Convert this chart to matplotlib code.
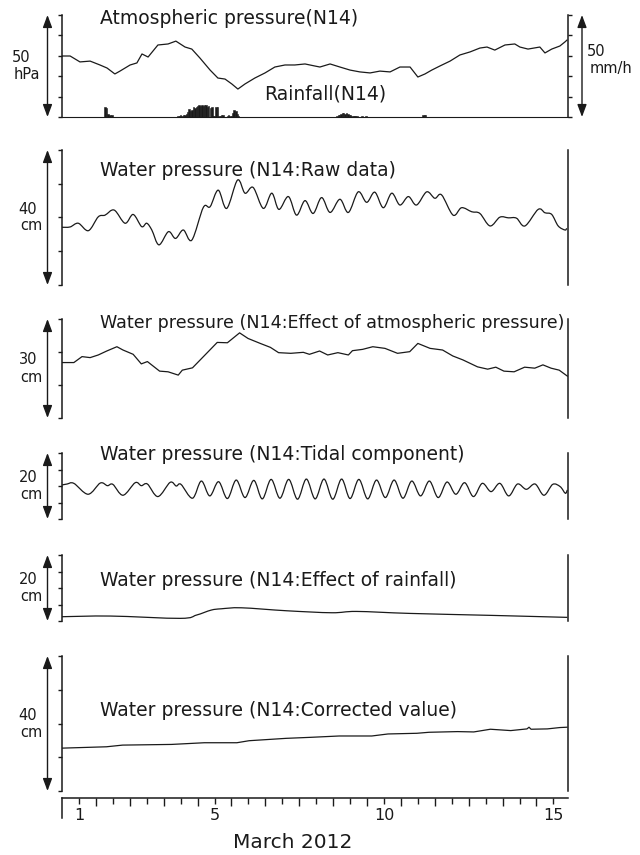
import matplotlib
matplotlib.use('Agg')
import matplotlib.pyplot as plt
from matplotlib.lines import Line2D
from matplotlib.path import Path
from matplotlib.patches import PathPatch
import matplotlib.transforms as mtransforms
import numpy as np

plt.rcParams['font.family'] = ['DejaVu Sans', 'Noto Sans CJK JP']

# time = days since 1 March 2012 00:00
pres_t = [0.00, 0.24, 0.53, 0.83, 1.12, 1.33, 1.56, 1.71, 2.01, 2.21, 2.36, 2.54, 2.83, 3.13, 3.36,
          3.63, 3.83, 4.07, 4.37, 4.60, 4.81, 5.01, 5.19, 5.40, 5.69, 5.99, 6.28, 6.58, 6.87, 7.17,
          7.46, 7.61, 7.91, 8.20, 8.50, 8.79, 9.09, 9.38, 9.68, 9.97, 10.27, 10.50, 10.71, 10.91, 11.15,
          11.45, 11.74, 12.04, 12.33, 12.54, 12.77, 13.07, 13.36, 13.51, 13.75, 14.10, 14.25, 14.45, 14.69, 14.84,
          14.90]
pres_hpa = [1014.9, 1014.9, 1012.0, 1012.4, 1010.5, 1009.0, 1006.1, 1007.5, 1010.5, 1011.5, 1015.9, 1014.4, 1020.3, 1020.8, 1022.2,
            1019.3, 1018.3, 1013.9, 1008.0, 1004.1, 1003.6, 1001.2, 998.7, 1001.2, 1004.1, 1006.6, 1009.5, 1010.5, 1010.5, 1011.0,
            1010.0, 1009.5, 1011.0, 1009.5, 1008.0, 1007.1, 1006.6, 1007.5, 1007.1, 1009.5, 1009.5, 1004.6, 1006.1, 1008.0, 1010.0,
            1012.4, 1015.4, 1016.9, 1018.8, 1019.3, 1017.8, 1020.3, 1020.8, 1019.3, 1018.3, 1019.3, 1016.4, 1018.3, 1019.8, 1021.8,
            1022.7]

rain_t = [1.27, 1.31, 1.36, 1.42, 1.47,
          3.42, 3.46, 3.50, 3.54, 3.58, 3.63, 3.67, 3.71, 3.75, 3.79, 3.83, 3.88, 3.92, 3.96, 4.00,
          4.04, 4.08, 4.13, 4.17, 4.21, 4.25, 4.29, 4.33, 4.38, 4.42, 4.46, 4.50, 4.54, 4.58, 4.63,
          4.67, 4.71, 4.75, 4.88, 4.92, 4.96, 5.00, 5.04, 5.08, 5.13, 5.17, 5.21,
          8.11, 8.15, 8.19, 8.23, 8.27, 8.31, 8.35, 8.40, 8.44, 8.48, 8.52, 8.56, 8.61, 8.65, 8.70,
          8.85, 8.97, 10.65, 10.69, 10.73]
rain_mm = [4.9, 4.5, 1.5, 1.2, 0.8,
           0.5, 0.7, 0.8, 0.6, 1.0, 1.2, 1.5, 2.5, 3.9, 2.8, 3.5, 4.9, 4.2, 4.9, 5.2,
           5.9, 5.4, 5.9, 5.6, 6.1, 5.9, 4.9, 5.4, 4.4, 4.9, 0.5, 0.3, 4.9, 4.9, 0.5,
           0.3, 1.0, 0.8, 0.3, 0.8, 0.5, 0.3, 2.0, 3.4, 3.0, 1.5, 0.5,
           0.5, 0.8, 1.2, 1.5, 1.8, 1.8, 1.5, 1.8, 1.5, 1.2, 0.8, 0.5, 0.3, 0.5, 0.3,
           0.3, 0.3, 0.8, 1.0, 0.8]

raw_t = [0.00, 0.24, 0.48, 0.78, 1.07, 1.27, 1.54, 1.86, 2.10, 2.35, 2.50, 2.65, 2.86, 3.14, 3.35,
         3.58, 3.83, 4.17, 4.37, 4.61, 4.86, 5.18, 5.40, 5.64, 5.94, 6.19, 6.40, 6.68, 6.92, 7.17,
         7.41, 7.66, 7.91, 8.20, 8.45, 8.74, 8.99, 9.23, 9.48, 9.73, 9.97, 10.22, 10.46, 10.76, 11.00,
         11.20, 11.54, 11.79, 12.09, 12.33, 12.63, 12.92, 13.17, 13.41, 13.66, 14.05, 14.25, 14.45, 14.64, 14.84,
         14.89]
raw_cm = [17.1, 17.2, 18.3, 16.1, 20.2, 20.7, 22.2, 18.3, 20.9, 17.3, 18.3, 16.3, 11.9, 15.8, 13.8,
          16.3, 13.3, 23.0, 23.2, 28.1, 22.7, 31.1, 27.2, 28.9, 22.7, 27.2, 22.4, 26.2, 20.7, 25.0,
          21.2, 25.9, 21.5, 25.4, 21.5, 27.6, 24.5, 27.5, 22.9, 27.2, 23.7, 26.2, 23.7, 27.6, 25.7,
          26.7, 20.7, 22.9, 21.7, 21.2, 17.5, 20.1, 19.9, 19.8, 17.5, 22.4, 21.4, 20.9, 17.5, 16.3,
          16.8]

atm_t = [0.00, 0.35, 0.59, 0.83, 1.07, 1.32, 1.62, 1.80, 2.10, 2.34, 2.52, 2.88, 3.13, 3.43, 3.55,
         3.85, 4.22, 4.58, 4.88, 5.24, 5.49, 5.85, 6.15, 6.39, 6.75, 7.12, 7.30, 7.60, 7.84, 8.14,
         8.45, 8.57, 8.87, 9.17, 9.53, 9.90, 10.26, 10.50, 10.86, 11.23, 11.53, 11.83, 12.26, 12.56, 12.80,
         13.04, 13.34, 13.65, 13.95, 14.19, 14.43, 14.67, 14.91]
atm_cm = [16.8, 16.8, 18.6, 18.3, 19.1, 20.3, 21.6, 20.6, 19.3, 16.4, 17.1, 14.2, 14.0, 13.0, 14.5,
          15.2, 19.1, 22.9, 22.8, 25.8, 24.1, 22.6, 21.4, 19.8, 19.6, 19.9, 19.3, 20.3, 19.1, 19.8,
          19.1, 20.4, 20.8, 21.6, 21.1, 19.6, 20.1, 22.6, 21.1, 20.6, 18.8, 17.6, 15.5, 14.8, 15.4,
          14.2, 14.0, 15.4, 15.1, 16.1, 15.1, 14.5, 12.7]

tide_t = [0.00, 0.15, 0.35, 0.77, 1.13, 1.34, 1.50, 1.80, 2.16, 2.34, 2.52, 2.83, 3.19, 3.37, 3.51,
          3.85, 4.11, 4.36, 4.62, 4.88, 5.14, 5.40, 5.66, 5.91, 6.17, 6.43, 6.69, 6.95, 7.21, 7.47,
          7.73, 7.99, 8.25, 8.50, 8.76, 9.02, 9.28, 9.54, 9.80, 10.06, 10.32, 10.58, 10.84, 11.10, 11.36,
          11.62, 11.88, 12.14, 12.40, 12.66, 12.92, 13.18, 13.44, 13.70, 13.96, 14.22, 14.48, 14.70, 14.85, 14.91]
tide_cm = [10.3, 10.6, 10.8, 7.5, 10.9, 10.1, 10.5, 7.2, 11.0, 10.1, 10.6, 6.8, 11.1, 10.0, 10.5,
           6.3, 11.5, 7.0, 11.3, 6.2, 11.8, 6.5, 11.7, 6.1, 12.0, 6.3, 12.0, 6.0, 12.1, 6.1,
           12.1, 6.0, 12.1, 6.2, 12.0, 6.1, 11.8, 6.5, 11.8, 6.3, 11.5, 7.0, 11.5, 6.5, 11.2,
           7.5, 11.0, 6.8, 10.8, 8.3, 10.8, 7.0, 10.6, 9.0, 10.6, 7.2, 10.5, 9.8, 7.8, 8.8]

rfx_t = [0.00, 1.43, 3.49, 3.97, 4.40, 4.70, 5.30, 6.63, 7.96, 8.69, 10.26, 12.68, 14.91]
rfx_cm = [1.3, 1.5, 0.8, 1.8, 3.3, 3.7, 4.0, 3.1, 2.5, 2.9, 2.3, 1.7, 1.1]

cor_t = [0.00, 1.31, 1.79, 3.23, 4.20, 5.16, 5.52, 6.61, 7.33, 8.18, 9.14, 9.62, 10.47, 10.83, 11.67,
         12.15, 12.64, 13.24, 13.72, 13.78, 13.84, 14.32, 14.69, 14.90]
cor_cm = [12.7, 13.1, 13.6, 13.8, 14.3, 14.3, 14.9, 15.6, 15.9, 16.3, 16.3, 16.9, 17.1, 17.4, 17.6,
          17.5, 18.3, 17.9, 18.4, 18.9, 18.3, 18.4, 18.8, 18.9]

day_labels = [1, 5, 10, 15]
n_days = 15

W, H = 640, 855
X0, X1 = 62, 568
XMAX = 14.93
INK = '#1a1a1a'
ARROW = '<|-|>,head_length=0.75,head_width=0.28'

fig = plt.figure(figsize=(W / 100, H / 100), dpi=100)


def ftext(x, y, s, **kw):
    fig.text(x / W, 1 - y / H, s, color=INK, **kw)


def smooth_line(ax, x, y, lw=0.9):
    # smooth curve through the points (Catmull-Rom drawn as bezier segments)
    x = np.asarray(x, float)
    y = np.asarray(y, float)
    xp = np.concatenate([[x[0]], x, [x[-1]]])
    yp = np.concatenate([[y[0]], y, [y[-1]]])
    verts = [(x[0], y[0])]
    codes = [Path.MOVETO]
    for i in range(len(x) - 1):
        c1 = (xp[i + 1] + (xp[i + 2] - xp[i]) / 6, yp[i + 1] + (yp[i + 2] - yp[i]) / 6)
        c2 = (xp[i + 2] - (xp[i + 3] - xp[i + 1]) / 6, yp[i + 2] - (yp[i + 3] - yp[i + 1]) / 6)
        verts += [c1, c2, (xp[i + 2], yp[i + 2])]
        codes += [Path.CURVE4] * 3
    ax.add_patch(PathPatch(Path(verts, codes), fill=False, lw=lw, edgecolor=INK))


def panel(top, bottom, lo, hi, step, num, unit, num_x=28, unit_x=31):
    ax = fig.add_axes([X0 / W, 1 - bottom / H, (X1 - X0) / W, (bottom - top) / H])
    ax.set_xlim(0, XMAX)
    ax.set_ylim(lo, hi)
    ax.patch.set_visible(False)
    for s in ['top', 'bottom']:
        ax.spines[s].set_visible(False)
    for s in ['left', 'right']:
        ax.spines[s].set_linewidth(1.1)
        ax.spines[s].set_color(INK)
    ax.set_xticks([])
    ax.set_yticks(np.arange(lo, hi + step / 2, step))
    ax.tick_params(axis='y', direction='out', length=3, width=1.0, color=INK,
                   left=True, right=False, labelleft=False, labelright=False)
    trans = mtransforms.blended_transform_factory(ax.transAxes, ax.transData)
    xa = (47.5 - X0) / (X1 - X0)
    ax.annotate('', xy=(xa, lo), xytext=(xa, hi), xycoords=trans, textcoords=trans,
                annotation_clip=False,
                arrowprops=dict(arrowstyle=ARROW, color=INK, lw=1.0,
                                shrinkA=0, shrinkB=0, mutation_scale=10))
    mid = (top + bottom) / 2
    ftext(num_x, mid - 8.5, num, ha='center', va='center', fontsize=10.5)
    ftext(unit_x, mid + 8.5, unit, ha='center', va='center', fontsize=10.5)
    return ax


# panel 1: atmospheric pressure + rainfall
ax1 = panel(15, 117, 985, 1035, 10, '50', 'hPa', num_x=21, unit_x=27)
ax1.plot(pres_t, pres_hpa, color=INK, lw=0.9)
ax1.spines['right'].set_visible(False)
ax1r = ax1.twinx()
ax1r.set_xlim(0, XMAX)
ax1r.set_ylim(0, 50)
ax1r.bar(rain_t, rain_mm, width=1 / 24, color=INK, edgecolor=INK, linewidth=0.4, align='center')
for s in ['top', 'left']:
    ax1r.spines[s].set_visible(False)
ax1r.spines['bottom'].set_linewidth(0.8)
ax1r.spines['bottom'].set_color(INK)
ax1r.spines['right'].set_linewidth(1.1)
ax1r.spines['right'].set_color(INK)
ax1r.set_yticks(np.arange(0, 51, 10))
ax1r.tick_params(axis='y', direction='out', length=3, width=1.0, color=INK, labelright=False)
tr = mtransforms.blended_transform_factory(ax1r.transAxes, ax1r.transData)
xa = (582 - X0) / (X1 - X0)
ax1r.annotate('', xy=(xa, 0), xytext=(xa, 50), xycoords=tr, textcoords=tr, annotation_clip=False,
              arrowprops=dict(arrowstyle=ARROW, color=INK, lw=1.0,
                              shrinkA=0, shrinkB=0, mutation_scale=10))
ftext(587, 52, '50', ha='left', va='center', fontsize=10.5)
ftext(590, 69, 'mm/h', ha='left', va='center', fontsize=10.5)
ftext(100, 19, 'Atmospheric pressure(N14)', ha='left', va='center', fontsize=13.5)
ftext(264, 94, 'Rainfall(N14)', ha='left', va='center', fontsize=13.5)

# panel 2: raw data
ax2 = panel(150, 285, 0, 40, 10, '40', 'cm')
smooth_line(ax2, raw_t, raw_cm)
ftext(100, 170, 'Water pressure (N14:Raw data)', ha='left', va='center', fontsize=13.5)

# panel 3: effect of atmospheric pressure
ax3 = panel(319, 418, 0, 30, 10, '30', 'cm')
ax3.plot(atm_t, atm_cm, color=INK, lw=0.9)
ftext(100, 323, 'Water pressure (N14:Effect of atmospheric pressure)', ha='left', va='center', fontsize=12.6)

# panel 4: tidal component
ax4 = panel(453, 519, 0, 20, 5, '20', 'cm')
smooth_line(ax4, tide_t, tide_cm)
ftext(100, 454, 'Water pressure (N14:Tidal component)', ha='left', va='center', fontsize=13.5)

# panel 5: effect of rainfall
ax5 = panel(555, 621, 0, 20, 5, '20', 'cm')
smooth_line(ax5, rfx_t, rfx_cm)
ftext(100, 580, 'Water pressure (N14:Effect of rainfall)', ha='left', va='center', fontsize=13.5)

# panel 6: corrected value
ax6 = panel(656, 791, 0, 40, 10, '40', 'cm')
ax6.plot(cor_t, cor_cm, color=INK, lw=0.9)
ftext(100, 710, 'Water pressure (N14:Corrected value)', ha='left', va='center', fontsize=13.5)

# date axis
axb = fig.add_axes([X0 / W, 1 - 798 / H, (X1 - X0) / W, 0.0001])
axb.set_xlim(0, XMAX)
axb.set_yticks([])
for s in ['top', 'left', 'right']:
    axb.spines[s].set_visible(False)
axb.spines['bottom'].set_linewidth(1.1)
axb.spines['bottom'].set_color(INK)
noon = [d - 0.5 for d in range(1, n_days + 1)]
axb.set_xticks(noon)
axb.set_xticklabels([str(d) if d in day_labels else '' for d in range(1, n_days + 1)], fontsize=11.5, color=INK)
axb.set_xticks(range(1, n_days), minor=True)
axb.tick_params(axis='x', which='major', direction='out', length=4, width=1.0, color=INK, pad=3.5)
axb.tick_params(axis='x', which='minor', direction='out', length=5.5, width=1.0, color=INK)
fig.add_artist(Line2D([X0 / W, X0 / W], [1 - 798 / H, 1 - 818 / H], color=INK, lw=1.1))
ftext(293, 842, 'March 2012', ha='center', va='center', fontsize=14.5)

fig.savefig('out.png', dpi=100)
